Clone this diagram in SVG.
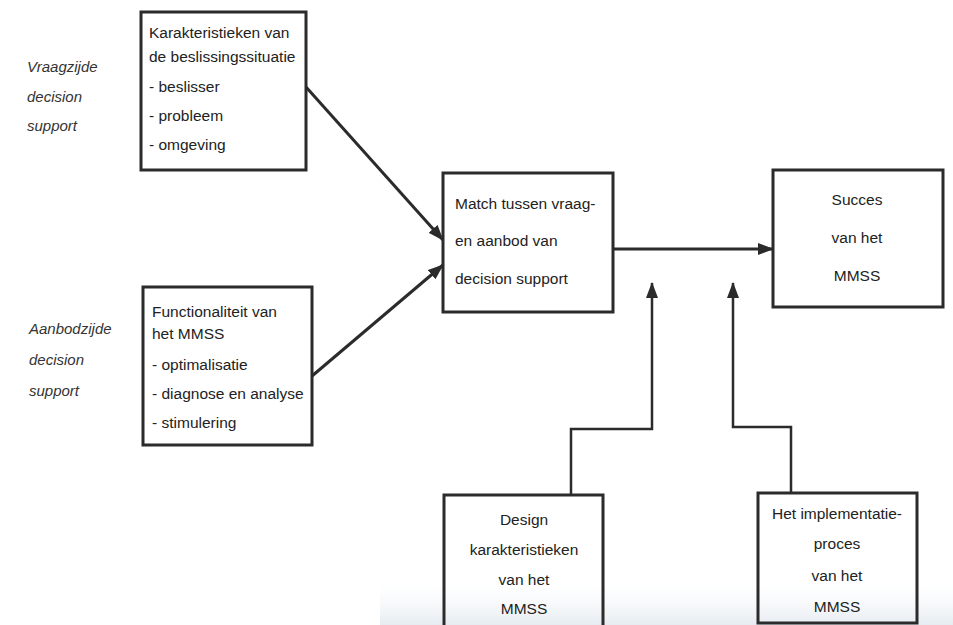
<svg xmlns="http://www.w3.org/2000/svg" width="953" height="625" viewBox="0 0 953 625">
<defs>
<style>
.box{fill:none;stroke:#2b2b2b;stroke-width:3}
.t{font-family:"Liberation Sans",Arial,Helvetica,sans-serif;font-size:15.5px;fill:#222}
.c{text-anchor:middle}
.side{font-family:"Liberation Sans",Arial,Helvetica,sans-serif;font-size:15px;font-style:italic;fill:#333}
.con{fill:none;stroke:#2b2b2b;stroke-width:3;marker-end:url(#ah)}
.con2{fill:none;stroke:#2b2b2b;stroke-width:2.5;marker-end:url(#ah)}
</style>
<marker id="ah" markerUnits="userSpaceOnUse" markerWidth="16" markerHeight="12" refX="15" refY="6" orient="auto">
<path d="M0,0 L16,6 L0,12 z" fill="#2b2b2b"/>
</marker>
<linearGradient id="bleed" x1="0" y1="0" x2="0" y2="1">
<stop offset="0" stop-color="#ffffff" stop-opacity="0"/>
<stop offset="1" stop-color="#e6ecf2"/>
</linearGradient>
</defs>
<rect width="953" height="625" fill="#ffffff"/>
<rect x="380" y="575" width="573" height="50" fill="url(#bleed)"/>

<g id="labels">
<text class="side" x="27" y="72">Vraagzijde</text>
<text class="side" x="27" y="102">decision</text>
<text class="side" x="27" y="131">support</text>
<text class="side" x="29" y="334">Aanbodzijde</text>
<text class="side" x="29" y="365">decision</text>
<text class="side" x="29" y="396">support</text>
</g>

<g id="connectors">
<line class="con" x1="306" y1="87" x2="443" y2="240"/>
<line class="con" x1="312" y1="376" x2="443" y2="265"/>
<line class="con" x1="613" y1="249" x2="773" y2="249"/>
<polyline class="con2" points="571,495 571,429 652,429 652,283"/>
<polyline class="con2" points="791,493 791,427 733,427 733,283"/>
</g>

<g id="n-karakteristieken">
<rect class="box" x="141" y="12" width="165" height="158"/>
<text class="t" x="149" y="38">Karakteristieken van</text>
<text class="t" x="149" y="62">de beslissingssituatie</text>
<text class="t" x="149" y="92">- beslisser</text>
<text class="t" x="149" y="121">- probleem</text>
<text class="t" x="149" y="150">- omgeving</text>
</g>

<g id="n-functionaliteit">
<rect class="box" x="143" y="287" width="169" height="158"/>
<text class="t" x="152" y="317">Functionaliteit van</text>
<text class="t" x="152" y="339">het MMSS</text>
<text class="t" x="152" y="370">- optimalisatie</text>
<text class="t" x="152" y="399">- diagnose en analyse</text>
<text class="t" x="152" y="428">- stimulering</text>
</g>

<g id="n-match">
<rect class="box" x="443" y="173" width="170" height="139"/>
<text class="t" x="455" y="209">Match tussen vraag-</text>
<text class="t" x="455" y="246">en aanbod van</text>
<text class="t" x="455" y="284">decision support</text>
</g>

<g id="n-succes">
<rect class="box" x="773" y="170" width="170" height="137"/>
<text class="t c" x="857" y="205">Succes</text>
<text class="t c" x="857" y="243">van het</text>
<text class="t c" x="857" y="281">MMSS</text>
</g>

<g id="n-design">
<rect class="box" x="444" y="495" width="159" height="140"/>
<text class="t c" x="524" y="525">Design</text>
<text class="t c" x="524" y="555">karakteristieken</text>
<text class="t c" x="524" y="585">van het</text>
<text class="t c" x="524" y="614">MMSS</text>
</g>

<g id="n-implementatie">
<rect class="box" x="758" y="493" width="159" height="130"/>
<text class="t c" x="837" y="519">Het implementatie-</text>
<text class="t c" x="837" y="549">proces</text>
<text class="t c" x="837" y="581">van het</text>
<text class="t c" x="837" y="612">MMSS</text>
</g>
</svg>
